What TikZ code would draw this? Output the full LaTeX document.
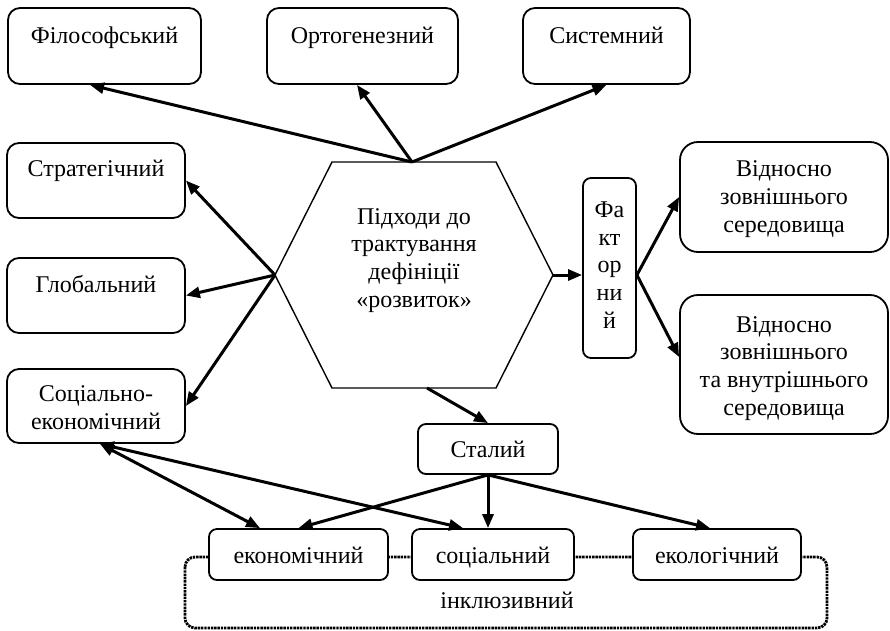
\documentclass[tikz,border=0pt]{standalone}
\usepackage{fontspec}
\setmainfont{Liberation Serif}
\usetikzlibrary{arrows.meta,calc}
\begin{document}
\begin{tikzpicture}[x=1pt,y=-1pt,
  box/.style={draw, line width=1.8pt, rounded corners=12pt, fill=white, inner sep=0pt,
    font=\fontsize{24}{27.6}\selectfont, align=center},
  sbox/.style={box, rounded corners=8pt},
  lbox/.style={sbox, text height=18pt, text depth=1pt},
  txt/.style={inner sep=0pt, font=\fontsize{24}{27.6}\selectfont, align=center},
  arr/.style={line width=3pt, -{Triangle[length=14pt,width=11pt]}},
  darr/.style={line width=3pt, {Triangle[length=14pt,width=11pt]}-{Triangle[length=14pt,width=11pt]}},
  dotline/.style={line width=2.8pt, dash pattern=on 2.4pt off 0.9pt, rounded corners=10pt}
]
\useasboundingbox (0,0) rectangle (890,630);

% dotted frame of the inclusive group
\draw[dotline] (185,557) rectangle (827,628);
\node[txt, anchor=base] (incl) at (507,608) {інклюзивний};

% top boxes
\node[box, minimum width=193pt, minimum height=76pt] (fil) at (104.5,46) {};
\node[txt, anchor=base] (tfil) at (104.5,43) {Філософський};
\node[box, minimum width=191pt, minimum height=76pt] (ort) at (362.5,46) {};
\node[txt, anchor=base] (tort) at (362.5,43) {Ортогенезний};
\node[box, minimum width=167pt, minimum height=76pt] (sys) at (606.5,46) {};
\node[txt, anchor=base] (tsys) at (606.5,43) {Системний};

% left boxes
\node[box, minimum width=178pt, minimum height=75pt] (str) at (96,180.5) {};
\node[txt, anchor=base] (tstr) at (96,176) {Стратегічний};
\node[box, minimum width=178pt, minimum height=75pt] (glob) at (96,295.5) {};
\node[txt, anchor=base] (tglob) at (96,292) {Глобальний};
\node[box, minimum width=178pt, minimum height=74pt] (se) at (96,406) {};
\node[txt, anchor=base] (tse) at (96,429) {Соціально-\\економічний};

% hexagon
\coordinate (hl) at (275,275);
\coordinate (htl) at (332,162);
\coordinate (htr) at (496,162);
\coordinate (hr) at (553,275);
\coordinate (hbr) at (496,388);
\coordinate (hbl) at (332,388);
\coordinate (htop) at (412,162);
\coordinate (hbot) at (427,388);
\draw[line width=1.4pt] (hl) -- (htl) -- (htr) -- (hr) -- (hbr) -- (hbl) -- cycle;
\node[txt, anchor=base] (hex) at (414,307) {Підходи до\\трактування\\дефініції\\«розвиток»};

% factor branch
\node[sbox, minimum width=53pt, minimum height=180pt] (fac) at (609.5,268) {};
\node[txt, anchor=base] (tfac) at (609.5,328) {Фа\\кт\\ор\\ни\\й};
\node[box, rounded corners=18pt, minimum width=208pt, minimum height=110pt] (v1) at (784,197) {};
\node[txt, anchor=base] (tv1) at (784,232) {Відносно\\зовнішнього\\середовища};
\node[box, rounded corners=18pt, minimum width=208pt, minimum height=139pt] (v2) at (784,364.5) {};
\node[txt, anchor=base] (tv2) at (784,415) {Відносно\\зовнішнього\\та внутрішнього\\середовища};

% sustainable branch
\node[lbox, minimum width=140pt, minimum height=50pt] (stal) at (488,449) {Сталий};
\node[lbox, minimum width=179pt, minimum height=51pt] (eko) at (298.5,554.5) {економічний};
\node[lbox, minimum width=162pt, minimum height=51pt] (soc) at (493,554.5) {соціальний};
\node[lbox, minimum width=168pt, minimum height=51pt] (ekol) at (717,554.5) {екологічний};

% connectors
\draw[arr] (htop) -- ([xshift=-14.5pt]fil.south);
\draw[arr] (htop) -- ([xshift=-5.5pt]ort.south);
\draw[arr] (htop) -- (sys.south);
\draw[arr] (hl) -- (str.east);
\draw[arr] (hl) -- (glob.east);
\draw[arr] (hl) -- (se.east);
\draw[arr] (hr) -- (fac.west |- hr);
\draw[arr] (fac.east |- hr) -- (v1.west);
\draw[arr] (fac.east |- hr) -- ([yshift=7.5pt]v2.west);
\draw[arr] (hbot) -- (stal.north);
\draw[arr] (stal.south) -- (eko.north);
\draw[arr] (stal.south) -- (stal.south |- soc.north);
\draw[arr] (stal.south) -- ([xshift=-7pt]ekol.north);
\draw[darr] ([xshift=4pt]se.south) -- ([xshift=-38.5pt]eko.north);
\draw[darr] ([xshift=4pt]se.south) -- ([xshift=-30pt]soc.north);
\end{tikzpicture}
\end{document}
